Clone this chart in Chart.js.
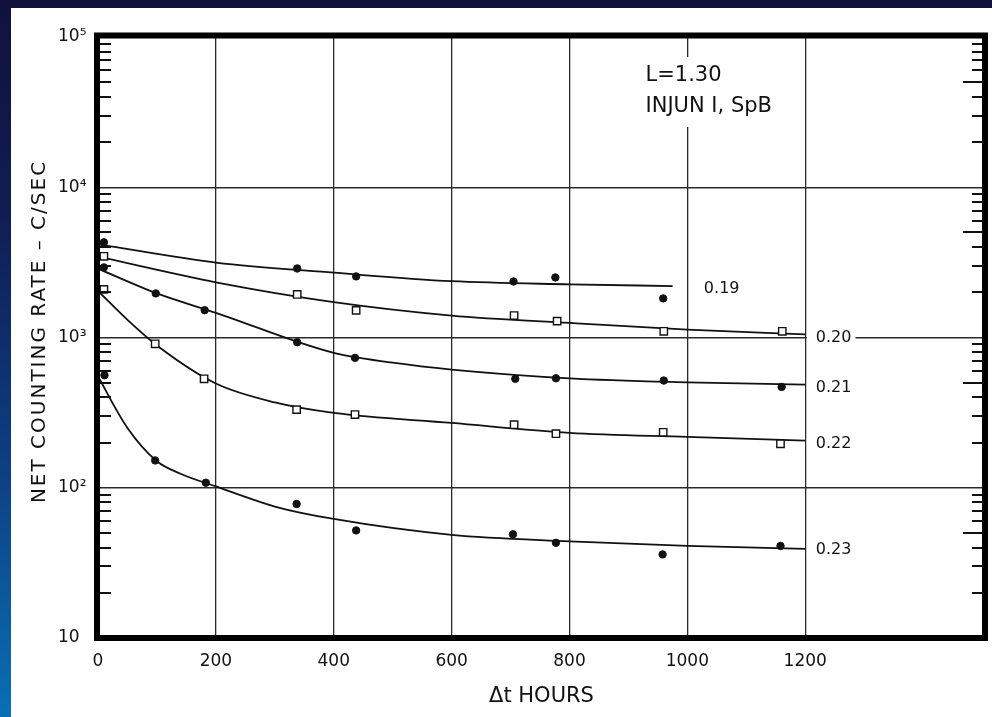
<!DOCTYPE html>
<html><head><meta charset="utf-8">
<script src="https://cdn.jsdelivr.net/npm/chart.js@4"></script>
<style>
html,body{margin:0;padding:0;width:992px;height:717px;overflow:hidden;}
body{background:linear-gradient(to bottom,#10123c 0%,#101d52 30%,#0d3f82 65%,#0a6fb4 100%);position:relative;}
#paper{position:absolute;left:11px;top:8px;width:981px;height:709px;background:#fff;}
canvas{position:absolute;left:0;top:0;}
</style></head><body>
<div id="paper"></div>
<canvas id="c" width="992" height="717"></canvas>
<script>
// ---- axes ----
const xTicks = [0, 200, 400, 600, 800, 1000, 1200];
const yTicks = [10, 100, 1000, 10000, 100000];
const yTickLabels = ['10', '10²', '10³', '10⁴', '10⁵'];
const minorMultipliers = [2, 3, 4, 5, 6, 7, 8, 9];
const xTitle = 'Δt HOURS';
const yTitle = 'NET COUNTING RATE – C/SEC';

// ---- measured points ----
const hours019 = [10, 338, 438, 705, 776, 959];
const rate019  = [4300, 2880, 2550, 2360, 2510, 1820];
const hours020 = [10, 338, 438, 706, 779, 960, 1161];
const rate020  = [3470, 1935, 1515, 1400, 1285, 1100, 1100];
const hours021 = [10, 98, 181, 338, 436, 708, 777, 960, 1160];
const rate021  = [2930, 1965, 1520, 930, 732, 531, 535, 517, 469];
const hours022 = [10, 97, 180, 337, 436, 706, 777, 959, 1158];
const rate022  = [2090, 908, 531, 331, 307, 263, 229, 234, 196];
const hours023 = [11, 97, 183, 337, 438, 704, 777, 958, 1158];
const rate023  = [561, 152, 108, 78, 52, 49, 43, 36, 41];

// ---- fitted curves ----
const curveHours019 = [0, 200, 400, 600, 800, 975];
const curveRate019  = [4170, 3150, 2700, 2370, 2260, 2200];
const curveHours020 = [0, 200, 400, 600, 800, 1000, 1200];
const curveRate020  = [3450, 2330, 1720, 1400, 1250, 1130, 1050];
const curveHours021 = [0, 100, 200, 400, 500, 600, 800, 1000, 1200];
const curveRate021  = [2870, 1965, 1460, 790, 680, 612, 535, 503, 486];
const curveHours022 = [0, 50, 100, 200, 300, 400, 600, 800, 1000, 1200];
const curveRate022  = [2040, 1310, 885, 494, 370, 315, 270, 232, 218, 206];
const curveHours023 = [0, 50, 100, 140, 200, 300, 400, 600, 800, 1000, 1200];
const curveRate023  = [550, 250, 150, 124, 102, 75, 62, 48.6, 44, 41, 39.2];

// ---- labels ----
const curveNames  = ['0.19', '0.20', '0.21', '0.22', '0.23'];
const labelHours  = [1028, 1218, 1218, 1218, 1218];
const labelRates  = [2150, 1016, 471, 200, 39.2];
const noteLines   = ['L=1.30', 'INJUN I, SpB'];
const noteHours   = 929;
const noteRates   = [55800, 34200];

const FONT = '"DejaVu Sans", sans-serif';
const zip = (xs, ys) => xs.map((x, i) => ({x: x, y: ys[i]}));

const pointSets = [
  [hours019, rate019, 'dot'], [hours020, rate020, 'square'], [hours021, rate021, 'dot'],
  [hours022, rate022, 'square'], [hours023, rate023, 'dot']
];
const curveSets = [
  [curveHours019, curveRate019], [curveHours020, curveRate020], [curveHours021, curveRate021],
  [curveHours022, curveRate022], [curveHours023, curveRate023]
];

const datasets = [];
pointSets.forEach((p, i) => {
  const sq = p[2] === 'square';
  datasets.push({
    label: curveNames[i] + ' data',
    data: zip(p[0], p[1]),
    showLine: false,
    pointStyle: sq ? 'rect' : 'circle',
    pointRadius: sq ? 5.2 : 3.7,
    pointBackgroundColor: sq ? '#fff' : '#111',
    pointBorderColor: '#111',
    pointBorderWidth: sq ? 1.4 : 1,
    order: 0
  });
});
curveSets.forEach((c, i) => {
  datasets.push({
    label: curveNames[i],
    data: zip(c[0], c[1]),
    borderColor: '#111',
    borderWidth: 1.8,
    pointRadius: 0,
    fill: false,
    cubicInterpolationMode: 'monotone',
    order: 1
  });
});

const decor = {
  id: 'decor',
  afterDatasetsDraw(chart) {
    const {ctx, chartArea: a, scales: {x, y}} = chart;
    ctx.save();
    // minor log ticks, inside on both sides
    ctx.strokeStyle = '#111';
    ctx.lineWidth = 2;
    for (let d = 10; d < 100000; d *= 10) {
      minorMultipliers.forEach(m => {
        const py = Math.round(y.getPixelForValue(m * d));
        ctx.beginPath();
        ctx.moveTo(a.left, py); ctx.lineTo(a.left + 13, py);
        ctx.moveTo(a.right, py); ctx.lineTo(a.right - (m === 5 ? 22 : 13), py);
        ctx.stroke();
      });
    }
    // heavy frame
    ctx.lineWidth = 6;
    ctx.strokeStyle = '#000';
    ctx.strokeRect(a.left - 1, a.top - 1.5, a.right - a.left + 1, a.bottom - a.top + 1.5);

    // curve labels
    ctx.font = '16px ' + FONT;
    ctx.textBaseline = 'middle';
    ctx.textAlign = 'left';
    curveNames.forEach((t, i) => {
      const px = x.getPixelForValue(labelHours[i]);
      const py = y.getPixelForValue(labelRates[i]);
      const w = ctx.measureText(t).width;
      ctx.fillStyle = '#fff';
      ctx.fillRect(px - 9, py - 8, w + 13, 16);
      ctx.fillStyle = '#111';
      ctx.fillText(t, px, py + 1);
    });

    // annotation
    ctx.font = '21px ' + FONT;
    const nx = x.getPixelForValue(noteHours);
    const ny0 = y.getPixelForValue(noteRates[0]);
    const ny1 = y.getPixelForValue(noteRates[1]);
    const nw = Math.max(...noteLines.map(t => ctx.measureText(t).width));
    ctx.fillStyle = '#fff';
    ctx.fillRect(nx - 6, ny0 - 18, nw + 12, ny1 - ny0 + 38);
    ctx.fillStyle = '#111';
    ctx.fillText(noteLines[0], nx, ny0);
    ctx.fillText(noteLines[1], nx, ny1);

    // y title
    ctx.translate(40, (a.top + a.bottom) / 2 - 6);
    ctx.rotate(-Math.PI / 2);
    ctx.font = '20px ' + FONT;
    ctx.letterSpacing = '2px';
    ctx.textAlign = 'center';
    ctx.fillText(yTitle, 0, 0);
    ctx.restore();
  }
};

new Chart(document.getElementById('c'), {
  type: 'line',
  data: {datasets: datasets},
  plugins: [decor],
  options: {
    responsive: false,
    animation: false,
    devicePixelRatio: 1,
    layout: {padding: {left: 58, top: 37, right: 7, bottom: 0}},
    plugins: {legend: {display: false}, tooltip: {enabled: false}},
    scales: {
      x: {
        type: 'linear',
        min: 0, max: 1505,
        afterBuildTicks: s => { s.ticks = xTicks.map(v => ({value: v})); },
        afterFit: s => { s.height = 79; },
        border: {display: false},
        grid: {color: '#2a2a2a', lineWidth: 1.3, drawTicks: false},
        ticks: {
          autoSkip: false, maxRotation: 0, padding: 13, color: '#111',
          font: {family: FONT, size: 17},
          callback: (v) => String(v)
        },
        title: {display: true, text: xTitle, color: '#111',
          font: {family: FONT, size: 21}, padding: {top: 0, bottom: 8}}
      },
      y: {
        type: 'logarithmic',
        min: 10, max: 100000,
        afterBuildTicks: s => { s.ticks = yTicks.map(v => ({value: v})); },
        afterFit: s => { s.width = 40; },
        border: {display: false},
        grid: {color: '#2a2a2a', lineWidth: 1.5, drawTicks: false},
        ticks: {
          autoSkip: false, crossAlign: 'far', color: '#111',
          font: {family: FONT, size: 17},
          callback: (v, i) => yTickLabels[i]
        }
      }
    }
  }
});
</script>
</body></html>
